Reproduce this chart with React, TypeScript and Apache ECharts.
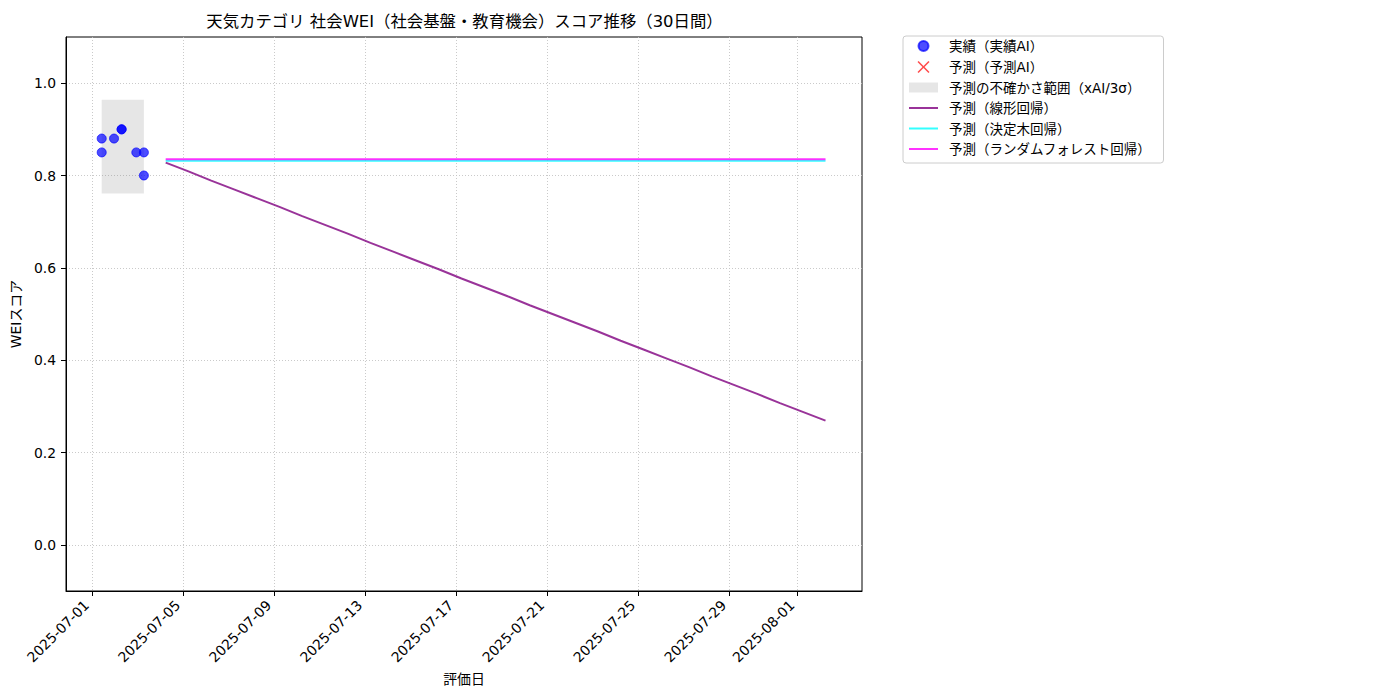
import React, { useEffect, useRef } from 'react';
import * as echarts from 'echarts';

const TITLE = '天気カテゴリ 社会WEI（社会基盤・教育機会）スコア推移（30日間）';
const X_NAME = '評価日';
const Y_NAME = 'WEIスコア';

const SERIES_NAMES = [
  '実績（実績AI）',
  '予測（予測AI）',
  '予測の不確かさ範囲（xAI/3σ）',
  '予測（線形回帰）',
  '予測（決定木回帰）',
  '予測（ランダムフォレスト回帰）',
];

const actualDates = [
  '2025-07-01 10:00', '2025-07-01 10:00', '2025-07-01 23:00', '2025-07-02 07:00',
  '2025-07-02 07:00', '2025-07-02 22:30', '2025-07-03 06:30', '2025-07-03 06:30',
];
const actualValues = [0.88, 0.85, 0.88, 0.9, 0.9, 0.85, 0.85, 0.8];

const bandDates = ['2025-07-01 10:00', '2025-07-03 06:30'];
const bandValues = [0.761, 0.964];

const forecastDates = [
  '2025-07-04 05:30', '2025-07-05 05:30', '2025-07-06 05:30', '2025-07-07 05:30', '2025-07-08 05:30',
  '2025-07-09 05:30', '2025-07-10 05:30', '2025-07-11 05:30', '2025-07-12 05:30', '2025-07-13 05:30',
  '2025-07-14 05:30', '2025-07-15 05:30', '2025-07-16 05:30', '2025-07-17 05:30', '2025-07-18 05:30',
  '2025-07-19 05:30', '2025-07-20 05:30', '2025-07-21 05:30', '2025-07-22 05:30', '2025-07-23 05:30',
  '2025-07-24 05:30', '2025-07-25 05:30', '2025-07-26 05:30', '2025-07-27 05:30', '2025-07-28 05:30',
  '2025-07-29 05:30', '2025-07-30 05:30', '2025-07-31 05:30', '2025-08-01 05:30', '2025-08-02 05:30',
];
const linearValues = [
  0.828, 0.809, 0.789, 0.770, 0.751, 0.732, 0.712, 0.693, 0.674, 0.654,
  0.635, 0.616, 0.597, 0.577, 0.558, 0.539, 0.519, 0.500, 0.481, 0.462,
  0.442, 0.423, 0.404, 0.385, 0.365, 0.346, 0.327, 0.307, 0.288, 0.269,
];
const treeValues = [
  0.832, 0.832, 0.832, 0.832, 0.832, 0.832, 0.832, 0.832, 0.832, 0.832,
  0.832, 0.832, 0.832, 0.832, 0.832, 0.832, 0.832, 0.832, 0.832, 0.832,
  0.832, 0.832, 0.832, 0.832, 0.832, 0.832, 0.832, 0.832, 0.832, 0.832,
];
const forestValues = [
  0.835, 0.835, 0.835, 0.835, 0.835, 0.835, 0.835, 0.835, 0.835, 0.835,
  0.835, 0.835, 0.835, 0.835, 0.835, 0.835, 0.835, 0.835, 0.835, 0.835,
  0.835, 0.835, 0.835, 0.835, 0.835, 0.835, 0.835, 0.835, 0.835, 0.835,
];

const xTicks = [
  '2025-07-01', '2025-07-05', '2025-07-09', '2025-07-13', '2025-07-17',
  '2025-07-21', '2025-07-25', '2025-07-29', '2025-08-01',
];
const yTicks = [0, 0.2, 0.4, 0.6, 0.8, 1.0];
const xRange = ['2025-06-29 20:20', '2025-08-03 20:00'];
const yRange = [-0.1, 1.1];

const FONT = '"DejaVu Sans", "Noto Sans CJK JP", sans-serif';

// legend icons: a 29x13 bounding box is set by the leading moveTo points
const BOX = 'M0,0M29,13';
const CIRCLE_ICON = `path://${BOX}M19.5,6.5A5,5,0,1,1,9.5,6.5A5,5,0,1,1,19.5,6.5Z`;
const X_ICON =
  `path://${BOX}M8.5,1.6L9.6,0.5L14.5,5.4L19.4,0.5L20.5,1.6L15.6,6.5L20.5,11.4L19.4,12.5L14.5,7.6L9.6,12.5L8.5,11.4L13.4,6.5Z`;
const RECT_ICON = `path://${BOX}M0,1.5L29,1.5L29,11.5L0,11.5Z`;
const LINE_ICON = `path://${BOX}M0,5.5L29,5.5L29,7.5L0,7.5Z`;
const X_SYMBOL = 'path://M0,1.1L1.1,0L6,4.9L10.9,0L12,1.1L7.1,6L12,10.9L10.9,12L6,7.1L1.1,12L0,10.9L4.9,6Z';

const ts = (s: string): number => {
  const iso = s.length === 10 ? s + 'T00:00' : s.replace(' ', 'T');
  return new Date(iso).getTime();
};
const pad = (n: number) => (n < 10 ? '0' + n : '' + n);
const fmtDate = (v: number) => {
  const d = new Date(v);
  return `${d.getFullYear()}-${pad(d.getMonth() + 1)}-${pad(d.getDate())}`;
};
const zip = (xs: string[], ys: number[]) => xs.map((x, i) => [ts(x), ys[i]]);

export default function App() {
  const ref = useRef<HTMLDivElement>(null);
  useEffect(() => {
    if (!ref.current) return;
    const chart = echarts.init(ref.current, undefined, { renderer: 'svg' });
    const gridLine = { show: true, lineStyle: { color: '#c4c4c4', width: 0.9, type: [1, 2] as any } };
    const option: any = {
      animation: false,
      textStyle: { fontFamily: FONT, color: '#000' },
      graphic: [
        {
          type: 'text',
          x: 464.5,
          y: 21,
          style: {
            text: TITLE,
            fill: '#000',
            font: `16.4px ${FONT}`,
            textAlign: 'center',
            textVerticalAlign: 'middle',
          },
        },
      ],
      grid: {
        left: 66, top: 37, width: 796, height: 554,
        show: true, borderColor: '#000', borderWidth: 1, backgroundColor: 'transparent',
      },
      legend: {
        left: 903, top: 36, orient: 'vertical',
        padding: [2.5, 12, 7, 5],
        itemWidth: 29, itemHeight: 13, itemGap: 6.5,
        borderColor: '#cccccc', borderWidth: 1, borderRadius: 3,
        textStyle: { fontSize: 13.5, color: '#000', fontFamily: FONT, lineHeight: 14, padding: [0, 0, 0, 6] },
        data: [
          { name: SERIES_NAMES[0], icon: CIRCLE_ICON },
          { name: SERIES_NAMES[1], icon: X_ICON },
          { name: SERIES_NAMES[2], icon: RECT_ICON },
          { name: SERIES_NAMES[3], icon: LINE_ICON },
          { name: SERIES_NAMES[4], icon: LINE_ICON },
          { name: SERIES_NAMES[5], icon: LINE_ICON },
        ],
      },
      xAxis: {
        type: 'value',
        min: ts(xRange[0]), max: ts(xRange[1]),
        name: X_NAME, nameLocation: 'middle', nameGap: 76,
        nameTextStyle: { fontSize: 13.9, color: '#000', fontFamily: FONT },
        axisLine: { show: true, onZero: false, lineStyle: { color: '#000', width: 1 } },
        axisTick: { show: true, length: 5, lineStyle: { color: '#000' }, customValues: xTicks.map(ts) },
        axisLabel: {
          show: true, rotate: 45, margin: 6, fontSize: 13.9, color: '#000', fontFamily: FONT,
          padding: [0, 8, 0, 0],
          customValues: xTicks.map(ts), formatter: (v: number) => fmtDate(v),
        },
        splitLine: gridLine,
      },
      yAxis: {
        type: 'value',
        min: yRange[0], max: yRange[1],
        name: Y_NAME, nameLocation: 'middle', nameGap: 40.5,
        nameTextStyle: { fontSize: 13.9, color: '#000', fontFamily: FONT },
        axisLine: { show: true, onZero: false, lineStyle: { color: '#000', width: 1 } },
        axisTick: { show: true, length: 5, lineStyle: { color: '#000' }, customValues: yTicks },
        axisLabel: {
          show: true, margin: 10, fontSize: 13.9, color: '#000', fontFamily: FONT,
          customValues: yTicks, formatter: (v: number) => v.toFixed(1),
        },
        splitLine: gridLine,
      },
      series: [
        {
          name: SERIES_NAMES[2], type: 'line', data: [], z: 1,
          color: 'rgba(128,128,128,0.2)',
          markArea: {
            silent: true,
            itemStyle: { color: 'rgba(128,128,128,0.2)' },
            data: [[
              { coord: [ts(bandDates[0]), bandValues[0]] },
              { coord: [ts(bandDates[1]), bandValues[1]] },
            ]],
          },
        },
        {
          name: SERIES_NAMES[0], type: 'scatter', data: zip(actualDates, actualValues),
          symbolSize: 9, color: 'rgba(0,0,255,0.7)', z: 4,
          itemStyle: { opacity: 1, borderColor: 'rgba(0,0,255,0.7)', borderWidth: 1 },
        },
        {
          name: SERIES_NAMES[1], type: 'scatter', data: [], symbol: X_SYMBOL,
          symbolSize: 12, color: 'rgba(255,0,0,0.7)', z: 4, itemStyle: { opacity: 1 },
        },
        {
          name: SERIES_NAMES[3], type: 'line', data: zip(forecastDates, linearValues),
          symbol: 'none', color: 'rgba(128,0,128,0.8)', lineStyle: { width: 2 }, z: 3,
        },
        {
          name: SERIES_NAMES[4], type: 'line', data: zip(forecastDates, treeValues),
          symbol: 'none', color: 'rgba(0,255,255,0.8)', lineStyle: { width: 2 }, z: 3,
        },
        {
          name: SERIES_NAMES[5], type: 'line', data: zip(forecastDates, forestValues),
          symbol: 'none', color: 'rgba(255,0,255,0.8)', lineStyle: { width: 2 }, z: 3,
        },
      ],
    };
    chart.setOption(option);
    return () => chart.dispose();
  }, []);
  return (
    <div
      ref={ref}
      style={{ position: 'absolute', left: 0, top: 0, width: 1400, height: 700, background: '#fff' }}
    />
  );
}
